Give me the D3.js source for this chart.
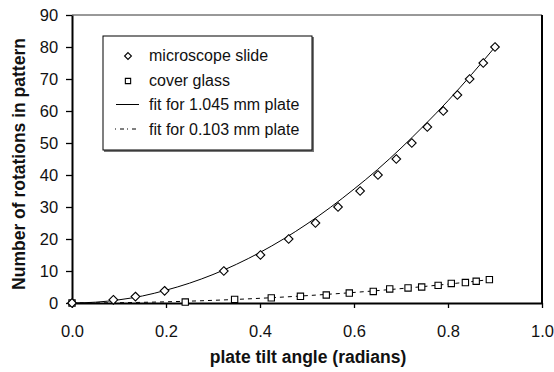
<!DOCTYPE html>
<html><head><meta charset="utf-8">
<script src="https://cdn.jsdelivr.net/npm/d3@7"></script>
<style>body{margin:0;background:#fff}svg{display:block}text{font-family:"Liberation Sans",Arial,sans-serif}</style>
</head><body>
<svg id="c" width="554" height="372"></svg>
<script>
// data
const slideAngle = [0, 0.088, 0.135, 0.197, 0.323, 0.401, 0.461, 0.518, 0.566, 0.613, 0.651, 0.690, 0.723, 0.756, 0.790, 0.820, 0.846, 0.875, 0.900];
const slideRot   = [0, 1, 2, 3.8, 10, 15, 20, 25, 30, 35, 40, 45, 50, 55, 60, 65, 70, 75, 80];
const coverAngle = [0, 0.241, 0.346, 0.424, 0.486, 0.541, 0.590, 0.641, 0.676, 0.715, 0.744, 0.779, 0.807, 0.837, 0.860, 0.888];
const coverRot   = [0, 0.3, 1.1, 1.6, 2.1, 2.5, 3.1, 3.6, 4.4, 4.7, 5.0, 5.5, 6.1, 6.4, 6.8, 7.3];
const fitAngle   = [0, 0.05, 0.1, 0.15, 0.2, 0.25, 0.3, 0.35, 0.4, 0.45, 0.5, 0.55, 0.6, 0.65, 0.7, 0.75, 0.8, 0.85, 0.9];
const fitThick   = [0, 0.25, 1.0, 2.2, 4.0, 6.2, 8.9, 12.1, 15.8, 20.0, 24.7, 29.9, 35.6, 41.7, 48.4, 55.6, 63.2, 71.4, 80.0];
const fitThinAngle = [0, 0.1, 0.2, 0.3, 0.4, 0.5, 0.6, 0.7, 0.8, 0.888];
const fitThin    = [0, 0.09, 0.37, 0.83, 1.47, 2.3, 3.3, 4.5, 5.9, 7.3];
const xTicks = [0, 0.2, 0.4, 0.6, 0.8, 1.0];
const yTicks = [0, 10, 20, 30, 40, 50, 60, 70, 80, 90];
const legendLabels = ["microscope slide", "cover glass", "fit for 1.045 mm plate", "fit for 0.103 mm plate"];

const svg = d3.select("#c");
const L = 72, R = 542, T = 15, B = 303;
const x = d3.scaleLinear().domain([0, 1]).range([L, R]);
const y = d3.scaleLinear().domain([0, 90]).range([B, T]);

// frame top/right
svg.append("line").attr("x1", L).attr("x2", R).attr("y1", T).attr("y2", T).attr("stroke", "#333").attr("stroke-width", 1);
svg.append("line").attr("x1", R).attr("x2", R).attr("y1", T).attr("y2", B).attr("stroke", "#000").attr("stroke-width", 2);

// axes
const xa = svg.append("g").attr("transform", `translate(0,${B})`)
  .call(d3.axisBottom(x).tickValues(xTicks).tickFormat(d3.format(".1f")).tickSize(5).tickSizeOuter(0));
const ya = svg.append("g").attr("transform", `translate(${L},0)`)
  .call(d3.axisLeft(y).tickValues(yTicks).tickSize(6).tickSizeOuter(0));
[xa, ya].forEach(g => {
  g.select(".domain").attr("stroke", "#000").attr("stroke-width", 2);
  g.selectAll(".tick line").attr("stroke", "#000").attr("stroke-width", 1.3);
  g.selectAll("text").attr("font-family", "Liberation Sans, Arial, sans-serif").attr("font-size", 16.5).attr("fill", "#111");
});
xa.selectAll("text").attr("dy", "1.55em");
ya.selectAll("text").attr("dx", "-0.3em");

// axis titles
svg.append("text").attr("x", 308).attr("y", 363).attr("text-anchor", "middle")
  .attr("font-size", 17.5).attr("font-weight", "bold").attr("fill", "#111").text("plate tilt angle (radians)");
svg.append("text").attr("transform", `translate(25,${(T + B) / 2 + 5}) rotate(-90)`).attr("text-anchor", "middle")
  .attr("font-size", 17.5).attr("font-weight", "bold").attr("fill", "#111").text("Number of rotations in pattern");

// fit lines
const line = d3.line().x(d => x(d[0])).y(d => y(d[1])).curve(d3.curveMonotoneX);
svg.append("path").datum(fitAngle.map((a, i) => [a, fitThick[i]])).attr("d", line)
  .attr("fill", "none").attr("stroke", "#000").attr("stroke-width", 1);
svg.append("path").datum(fitThinAngle.map((a, i) => [a, fitThin[i]])).attr("d", line)
  .attr("fill", "none").attr("stroke", "#000").attr("stroke-width", 1).attr("stroke-dasharray", "4,4");

// markers
const diamond = d3.symbol().type(d3.symbolDiamond2).size(48);
const square = d3.symbol().type(d3.symbolSquare).size(40);
svg.append("g").selectAll("path").data(coverAngle.map((a, i) => [a, coverRot[i]])).join("path")
  .attr("d", square).attr("transform", d => `translate(${x(d[0])},${y(d[1])})`)
  .attr("fill", "#fff").attr("stroke", "#000").attr("stroke-width", 1.1);
svg.append("g").selectAll("path").data(slideAngle.map((a, i) => [a, slideRot[i]])).join("path")
  .attr("d", diamond).attr("transform", d => `translate(${x(d[0])},${y(d[1])})`)
  .attr("fill", "#fff").attr("stroke", "#000").attr("stroke-width", 1.1);

// legend
const lg = svg.append("g");
lg.append("rect").attr("x", 104).attr("y", 37).attr("width", 210).attr("height", 115).attr("fill", "#777");
lg.append("rect").attr("x", 103).attr("y", 36).attr("width", 209).attr("height", 114).attr("fill", "#fff").attr("stroke", "#000").attr("stroke-width", 1);
const rowsY = [55, 80, 104.5, 129];
const dSmall = d3.symbol().type(d3.symbolDiamond2).size(30);
const sSmall = d3.symbol().type(d3.symbolSquare).size(28);
lg.append("path").attr("d", dSmall).attr("transform", `translate(128,${rowsY[0] + 1})`).attr("fill", "#fff").attr("stroke", "#000").attr("stroke-width", 1.1);
lg.append("path").attr("d", sSmall).attr("transform", `translate(128,${rowsY[1] + 1})`).attr("fill", "#fff").attr("stroke", "#000").attr("stroke-width", 1.1);
lg.append("line").attr("x1", 116).attr("x2", 139).attr("y1", rowsY[2]).attr("y2", rowsY[2]).attr("stroke", "#000");
lg.append("line").attr("x1", 115).attr("x2", 139).attr("y1", rowsY[3]).attr("y2", rowsY[3]).attr("stroke", "#000").attr("stroke-dasharray", "1,4,4,3");
lg.selectAll("text.l").data(legendLabels).join("text").attr("class", "l")
  .attr("x", 149).attr("y", (d, i) => rowsY[i]).attr("dy", "0.36em").attr("font-size", 16).attr("fill", "#111").text(d => d);
</script>
</body></html>
